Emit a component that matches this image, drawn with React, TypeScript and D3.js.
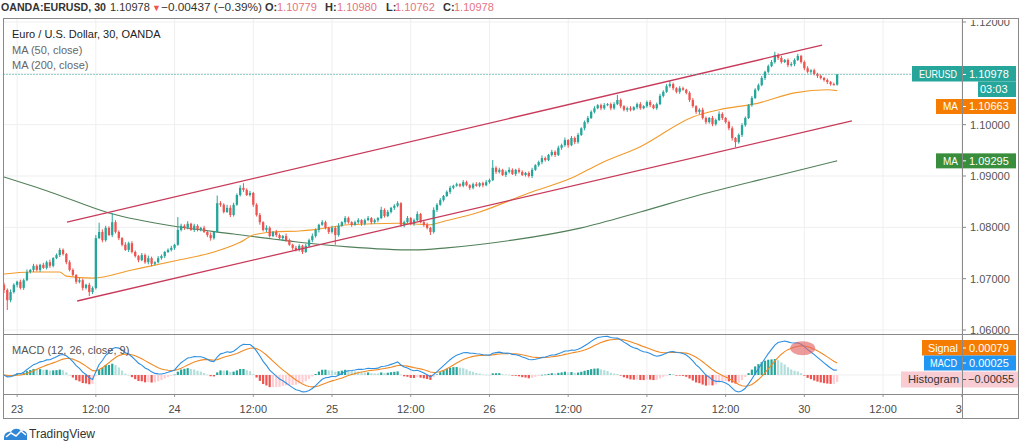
import React from "react";
import * as d3 from "d3";

// ===================== DATA =====================
// Prices are stored in pips (0.0001) above BASE.
const BASE = 1.06;
const PIP = 10000;
const firstOpenPips = 88;

// 30-minute closes, bar 0 .. bar 254 (23 Sep session start is bar 4)
const closePips = [
  78, 58, 74, 88, 94, 82, 97, 113, 117, 125,
  117, 127, 121, 132, 125, 140, 146, 156, 148, 132,
  117, 107, 94, 97, 82, 88, 74, 82, 179, 191,
  175, 199, 185, 210, 191, 179, 166, 156, 169, 152,
  144, 136, 146, 132, 140, 129, 132, 140, 144, 152,
  156, 160, 166, 195, 203, 199, 207, 195, 203, 195,
  199, 191, 185, 179, 191, 247, 244, 230, 238, 224,
  244, 263, 277, 273, 263, 267, 244, 224, 210, 195,
  199, 183, 191, 185, 179, 183, 175, 166, 160, 156,
  164, 152, 164, 175, 183, 195, 205, 210, 199, 191,
  199, 185, 203, 210, 218, 210, 205, 210, 214, 207,
  214, 218, 210, 214, 218, 234, 222, 230, 238, 242,
  247, 205, 210, 218, 207, 214, 226, 210, 205, 199,
  191, 234, 244, 253, 261, 269, 277, 281, 284, 281,
  288, 282, 277, 284, 281, 286, 282, 288, 292, 316,
  308, 312, 302, 308, 312, 304, 312, 308, 302, 306,
  300, 312, 321, 327, 335, 331, 341, 347, 341, 355,
  360, 370, 360, 374, 366, 380, 393, 405, 413, 425,
  432, 438, 432, 438, 440, 432, 440, 448, 436, 429,
  432, 429, 434, 440, 432, 436, 444, 438, 432, 440,
  456, 464, 475, 479, 471, 464, 471, 468, 462, 448,
  436, 425, 429, 413, 405, 413, 401, 409, 421, 413,
  405, 393, 374, 366, 380, 399, 413, 438, 452, 468,
  477, 491, 503, 514, 522, 536, 530, 522, 526, 516,
  518, 526, 534, 522, 510, 503, 506, 499, 495, 491,
  487, 483, 479, 478, 498,
];

// upper / lower wick length of each bar, in pips
const wickUp = [
  4, 3, 5, 3, 2, 4, 3, 5, 2, 4,
  3, 2, 4, 3, 5, 2, 3, 4, 3, 2,
  4, 3, 2, 5, 3, 2, 4, 3, 6, 18,
  5, 4, 3, 18, 4, 3, 2, 5, 3, 4,
  3, 2, 4, 3, 5, 3, 2, 4, 3, 2,
  3, 4, 2, 25, 4, 3, 5, 2, 4, 3,
  2, 4, 3, 5, 2, 15, 4, 3, 6, 5,
  4, 3, 5, 9, 3, 4, 2, 3, 4, 2,
  5, 3, 2, 4, 3, 2, 5, 3, 2, 4,
  3, 2, 4, 3, 5, 3, 2, 4, 3, 2,
  4, 3, 5, 2, 4, 3, 2, 3, 4, 2,
  3, 4, 2, 3, 2, 6, 3, 4, 2, 3,
  4, 2, 3, 4, 2, 3, 5, 2, 3, 4,
  2, 5, 3, 4, 2, 3, 4, 2, 3, 2,
  4, 3, 2, 3, 4, 2, 3, 4, 3, 15,
  3, 4, 2, 3, 5, 3, 2, 4, 3, 2,
  3, 4, 2, 3, 5, 3, 2, 4, 3, 4,
  3, 5, 2, 4, 3, 4, 2, 3, 4, 3,
  4, 2, 3, 4, 2, 3, 4, 10, 3, 2,
  3, 4, 2, 3, 4, 2, 3, 4, 2, 3,
  4, 3, 4, 6, 3, 2, 4, 3, 2, 3,
  4, 2, 3, 4, 3, 2, 4, 3, 5, 3,
  2, 3, 4, 2, 3, 4, 3, 2, 4, 3,
  3, 4, 2, 3, 4, 6, 3, 4, 2, 3,
  4, 3, 4, 2, 3, 4, 2, 3, 2, 3,
  2, 3, 2, 3, 0,
];
const wickDown = [
  6, 19, 4, 3, 5, 3, 4, 2, 3, 4,
  3, 4, 2, 3, 4, 3, 2, 4, 3, 4,
  3, 2, 4, 3, 5, 3, 8, 4, 3, 2,
  4, 3, 2, 4, 3, 4, 3, 2, 4, 3,
  3, 4, 2, 3, 4, 5, 3, 2, 3, 4,
  2, 3, 4, 2, 3, 4, 3, 2, 4, 3,
  3, 2, 4, 5, 3, 2, 4, 3, 2, 4,
  3, 2, 3, 4, 2, 3, 4, 3, 5, 3,
  4, 3, 2, 4, 3, 5, 3, 2, 4, 3,
  3, 4, 2, 3, 4, 3, 5, 2, 3, 4,
  3, 19, 3, 2, 4, 3, 4, 2, 3, 4,
  3, 2, 4, 3, 4, 2, 3, 2, 3, 4,
  3, 4, 5, 2, 3, 4, 3, 2, 4, 3,
  6, 3, 4, 2, 3, 2, 4, 3, 2, 3,
  3, 2, 4, 3, 2, 3, 4, 2, 3, 2,
  4, 3, 2, 4, 3, 2, 4, 3, 2, 3,
  3, 4, 2, 3, 4, 3, 2, 3, 4, 2,
  4, 3, 5, 2, 4, 3, 2, 4, 3, 2,
  3, 2, 4, 3, 2, 4, 3, 2, 4, 3,
  4, 3, 2, 4, 3, 2, 3, 4, 2, 3,
  2, 3, 2, 3, 4, 3, 4, 2, 3, 4,
  3, 4, 5, 3, 4, 3, 4, 3, 2, 4,
  3, 4, 5, 10, 3, 4, 3, 2, 3, 2,
  3, 2, 4, 3, 2, 3, 4, 3, 2, 4,
  3, 4, 2, 3, 4, 3, 4, 3, 4, 3,
  3, 4, 3, 2, 2,
];

// Moving averages: [bar index, price]
const ma50Knots: [number, number][] = [
  [0, 1.0709], [8, 1.0713], [17, 1.0713], [19, 1.0705], [27, 1.0701],
  [39, 1.0717], [53, 1.0736], [64, 1.0752], [72, 1.0771], [76, 1.0785],
  [82, 1.0791], [90, 1.0793], [94, 1.0795], [105, 1.0805], [120, 1.0808],
  [130, 1.0805], [133, 1.081], [145, 1.083], [160, 1.0867], [173, 1.0896],
  [182, 1.0925], [194, 1.0957], [210, 1.1015], [218, 1.1029], [230, 1.1042],
  [241, 1.1062], [251, 1.1068], [254, 1.10663],
];
const ma200Knots: [number, number][] = [
  [0, 1.0898], [14, 1.0869], [32, 1.0828], [53, 1.0801], [70, 1.0787],
  [90, 1.0771], [105, 1.0762], [125, 1.0756], [135, 1.076], [155, 1.0775],
  [176, 1.0799], [194, 1.083], [212, 1.0863], [230, 1.0892], [243, 1.0912],
  [254, 1.09295],
];

// Drawn trend channel: [bar index, price]
const channelUpper: [number, number][] = [[19.2, 1.081], [249.4, 1.1155]];
const channelLower: [number, number][] = [[22.3, 1.06565], [258.5, 1.10072]];

const priceTicks = [1.06, 1.07, 1.08, 1.09, 1.1, 1.12];
const timeTickIdx = [4, 28, 52, 76, 100, 124, 148, 172, 196, 220, 244, 268, 292];
const timeTickLabels = ["23", "12:00", "24", "12:00", "25", "12:00", "26", "12:00", "27", "12:00", "30", "12:00", "31"];

const lastPrice = 1.10978;
const ma50Last = 1.10663;
const ma200Last = 1.09295;
const countdown = "03:03";
const macdLabels = { signal: "0.00079", macd: "0.00025", hist: "\u22120.00055" };
const circleAt: [number, number] = [243.5, 0.00228]; // annotation (bar, MACD value)

// ===================== CHART =====================
const FONT = '"Liberation Sans", Arial, sans-serif';
const UP = "#26a69a";
const DOWN = "#ef5350";

function ema(vals: number[], n: number) {
  const k = 2 / (n + 1);
  const out: number[] = [];
  vals.forEach((v, i) => out.push(i === 0 ? v : v * k + out[i - 1] * (1 - k)));
  return out;
}

export default function App() {
  const W = 1024, H = 445;
  const L = 3.5, R = 1018.5, T = 18.5, B = 418.5;
  const AX = 962;
  const mainTop = 18, mainBot = 334, macdBot = 394;

  const x = d3.scaleLinear().domain([0, 292]).range([4, 961.8]);
  const y = d3.scaleLinear().domain([1.06, 1.12]).range([330, 22]);
  const ym = d3.scaleLinear().domain([0, 0.001]).range([375, 363.3]);

  const closes = closePips.map((p) => BASE + p / PIP);
  const opens = closes.map((c, i) => (i === 0 ? BASE + firstOpenPips / PIP : closes[i - 1]));
  const highs = closes.map((c, i) => Math.max(c, opens[i]) + wickUp[i] / PIP);
  const lows = closes.map((c, i) => Math.min(c, opens[i]) - wickDown[i] / PIP);

  const e12 = ema(closes, 12);
  const e26 = ema(closes, 26);
  const macd = e12.map((v, i) => v - e26[i]);
  const signal = ema(macd, 9);
  const hist = macd.map((v, i) => v - signal[i]);

  const knotLine = d3
    .line<[number, number]>()
    .x((d) => x(d[0]))
    .y((d) => y(d[1]))
    .curve(d3.curveMonotoneX);
  const straight = d3.line<[number, number]>().x((d) => x(d[0])).y((d) => y(d[1]));
  const macdLine = d3.line<number>().x((_, i) => x(i)).y((d) => ym(d));

  const bw = 2.3;
  const fit = (len: number) => ({ textLength: len, lengthAdjust: "spacingAndGlyphs" as const });

  return (
    <svg
      width={W}
      height={H}
      style={{ position: "absolute", left: 0, top: 0, background: "#fff", fontFamily: FONT }}
    >
      <defs>
        <clipPath id="mainClip">
          <rect x={L} y={mainTop} width={AX - L} height={mainBot - mainTop} />
        </clipPath>
        <clipPath id="macdClip">
          <rect x={L} y={mainBot} width={AX - L} height={macdBot - mainBot} />
        </clipPath>
        <clipPath id="axisClip">
          <rect x={AX} y={20} width={R - AX} height={mainBot - 20} />
        </clipPath>
        <clipPath id="timeClip">
          <rect x={L} y={macdBot} width={AX - L} height={B - macdBot} />
        </clipPath>
      </defs>

      {/* header */}
      <text x={1} y={11} fontSize={11} fontWeight="bold" fill="#333" {...fit(105)}>OANDA:EURUSD, 30</text>
      <text x={110} y={11} fontSize={11} fill="#333">1.10978</text>
      <text x={152} y={11} fontSize={9} fill={DOWN}>▼</text>
      <text x={161} y={11} fontSize={11} fill="#333" {...fit(101)}>−0.00437 (−0.39%)</text>
      <text x={265} y={11} fontSize={11} fontWeight="bold" fill="#333">O:</text>
      <text x={277} y={11} fontSize={11} fill="#e57380">1.10779</text>
      <text x={325} y={11} fontSize={11} fontWeight="bold" fill="#333">H:</text>
      <text x={337} y={11} fontSize={11} fill="#e57380">1.10980</text>
      <text x={386} y={11} fontSize={11} fontWeight="bold" fill="#333">L:</text>
      <text x={395} y={11} fontSize={11} fill="#e57380">1.10762</text>
      <text x={443} y={11} fontSize={11} fontWeight="bold" fill="#333">C:</text>
      <text x={454} y={11} fontSize={11} fill="#e57380">1.10978</text>

      {/* grid */}
      <g stroke="#efefef" strokeWidth={1}>
        {timeTickIdx.map((t) => (
          <line key={"vg" + t} x1={x(t)} x2={x(t)} y1={mainTop} y2={macdBot} />
        ))}
        {[...priceTicks, 1.11].map((p) => (
          <line key={"hg" + p} x1={L} x2={AX} y1={y(p)} y2={y(p)} />
        ))}
        <line x1={L} x2={AX} y1={ym(0)} y2={ym(0)} />
      </g>

      {/* main pane */}
      <g clipPath="url(#mainClip)">
        <path d={knotLine(ma200Knots) || ""} fill="none" stroke="#52805a" strokeWidth={1.1} />
        <path d={knotLine(ma50Knots) || ""} fill="none" stroke="#f29b2c" strokeWidth={1.1} />
        {closes.map((c, i) => {
          const o = opens[i];
          const col = c >= o ? UP : DOWN;
          const top = y(Math.max(o, c));
          const bot = y(Math.min(o, c));
          return (
            <g key={"c" + i}>
              <line x1={x(i)} x2={x(i)} y1={y(highs[i])} y2={y(lows[i])} stroke={col} strokeWidth={1} />
              <rect x={x(i) - bw / 2} y={top} width={bw} height={Math.max(1, bot - top)} fill={col} />
            </g>
          );
        })}
        <path d={straight(channelUpper) || ""} stroke="#c83a5a" strokeWidth={1.3} fill="none" />
        <path d={straight(channelLower) || ""} stroke="#c83a5a" strokeWidth={1.3} fill="none" />
        <line x1={L} x2={AX} y1={y(lastPrice)} y2={y(lastPrice)} stroke={UP} strokeWidth={1} strokeDasharray="1,2" />
      </g>

      {/* legend */}
      <text x={12} y={38} fontSize={11} fill="#222">Euro / U.S. Dollar, 30, OANDA</text>
      <text x={12} y={54} fontSize={11} fill="#666">MA (50, close)</text>
      <text x={12} y={69} fontSize={11} fill="#666">MA (200, close)</text>

      {/* MACD pane */}
      <g clipPath="url(#macdClip)">
        {hist.map((h, i) => {
          const prev = i === 0 ? 0 : hist[i - 1];
          const col = h >= 0 ? (h >= prev ? "#26a69a" : "#b2dfdb") : h < prev ? "#ef5350" : "#ffcdd2";
          const y0 = ym(0);
          const y1 = ym(h);
          return (
            <rect key={"h" + i} x={x(i) - 1.1} y={Math.min(y0, y1)} width={2.2} height={Math.max(0.6, Math.abs(y1 - y0))} fill={col} />
          );
        })}
        <path d={macdLine(signal) || ""} fill="none" stroke="#f08a24" strokeWidth={1.1} />
        <path d={macdLine(macd) || ""} fill="none" stroke="#2e8fe0" strokeWidth={1.1} />
        <ellipse cx={x(circleAt[0])} cy={ym(circleAt[1])} rx={12.5} ry={7} fill="rgba(226,100,100,0.65)" />
      </g>
      <text x={12} y={354} fontSize={11} fill="#555">MACD (12, 26, close, 9)</text>

      {/* price axis */}
      <g clipPath="url(#axisClip)">
        {priceTicks.map((p) => (
          <g key={"pt" + p}>
            <line x1={AX} x2={AX + 4} y1={y(p)} y2={y(p)} stroke="#888" />
            <text x={970} y={y(p)} dy="0.35em" fontSize={11} fill="#555">
              {p.toFixed(5)}
            </text>
          </g>
        ))}
      </g>

      {/* price labels */}
      <g fontSize={11} fill="#fff">
        <rect x={912} y={66} width={104} height={15.5} fill={UP} />
        <text x={919} y={y(lastPrice)} dy="0.35em" {...fit(38)}>EURUSD</text>
        <line x1={AX} x2={AX + 4} y1={y(lastPrice)} y2={y(lastPrice)} stroke="#fff" />
        <text x={969} y={y(lastPrice)} dy="0.35em">{lastPrice.toFixed(5)}</text>
        <rect x={978} y={81.5} width={38} height={15.5} fill={UP} />
        <text x={980} y={89.5} dy="0.35em">{countdown}</text>

        <rect x={936} y={99} width={80} height={15} fill="#f57c00" />
        <text x={943} y={106.5} dy="0.35em" {...fit(15)}>MA</text>
        <line x1={AX} x2={AX + 4} y1={106.5} y2={106.5} stroke="#fff" />
        <text x={969} y={106.5} dy="0.35em">{ma50Last.toFixed(5)}</text>

        <rect x={936} y={y(ma200Last) - 7.5} width={80} height={15} fill="#388e3c" />
        <text x={943} y={y(ma200Last)} dy="0.35em" {...fit(15)}>MA</text>
        <line x1={AX} x2={AX + 4} y1={y(ma200Last)} y2={y(ma200Last)} stroke="#fff" />
        <text x={969} y={y(ma200Last)} dy="0.35em">{ma200Last.toFixed(5)}</text>

        <rect x={922} y={340} width={94} height={15.5} fill="#f57c00" />
        <text x={928} y={348} dy="0.35em" {...fit(30)}>Signal</text>
        <line x1={AX} x2={AX + 4} y1={348} y2={348} stroke="#fff" />
        <text x={969} y={348} dy="0.35em">{macdLabels.signal}</text>

        <rect x={924} y={355.5} width={92} height={15} fill="#2196f3" />
        <text x={930} y={363} dy="0.35em" {...fit(27)}>MACD</text>
        <line x1={AX} x2={AX + 4} y1={363} y2={363} stroke="#fff" />
        <text x={969} y={363} dy="0.35em">{macdLabels.macd}</text>

        <rect x={901} y={371.5} width={117} height={16} fill="#f9ccd4" />
        <text x={908} y={379.5} dy="0.35em" fill="#333" {...fit(51)}>Histogram</text>
        <line x1={AX} x2={AX + 4} y1={379.5} y2={379.5} stroke="#555" />
        <text x={968} y={379.5} dy="0.35em" fill="#333">{macdLabels.hist}</text>
      </g>

      {/* time axis */}
      <g clipPath="url(#timeClip)">
        {timeTickIdx.map((t, k) => (
          <g key={"tt" + t}>
            <line x1={x(t)} x2={x(t)} y1={macdBot} y2={macdBot + 3} stroke="#999" />
            <text x={x(t)} y={409} dy="0.35em" textAnchor="middle" fontSize={11} fill="#4a4a4a">
              {timeTickLabels[k]}
            </text>
          </g>
        ))}
      </g>

      {/* frame & separators */}
      <g stroke="#8a8a8a" strokeWidth={1} fill="none">
        <rect x={L} y={T} width={R - L} height={B - T} />
        <line x1={L} x2={R} y1={mainBot + 0.5} y2={mainBot + 0.5} />
        <line x1={L} x2={R} y1={macdBot + 0.5} y2={macdBot + 0.5} />
        <line x1={AX + 0.5} x2={AX + 0.5} y1={T} y2={B} />
      </g>

      {/* logo */}
      <g>
        <path d="M4,438 C4,433 8,431 11,432 C13,428 19,428 21,431 C25,430 28,433 27,437 L27,440 L4,440 Z" fill="#2f86d6" />
        <polyline points="6,437 11,433 16,436 21,431 26,435" fill="none" stroke="#fff" strokeWidth={1.5} />
        <text x={29} y={438} fontSize={12} fill="#333">TradingView</text>
      </g>
    </svg>
  );
}
